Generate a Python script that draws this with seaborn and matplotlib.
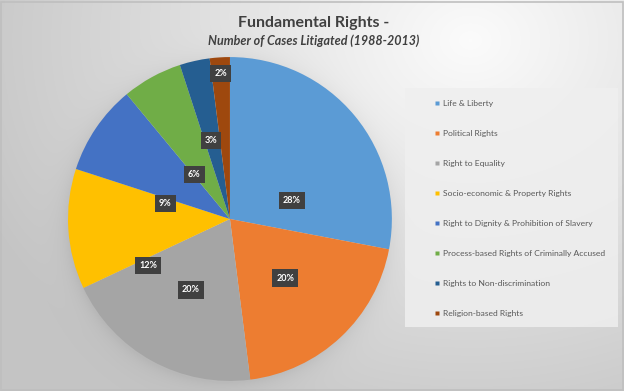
import numpy as np
import matplotlib
matplotlib.use("Agg")
import matplotlib.pyplot as plt
import seaborn as sns
from matplotlib.patches import Rectangle
from matplotlib.lines import Line2D

categories = [
    "Life & Liberty",
    "Political Rights",
    "Right to Equality",
    "Socio-economic & Property Rights",
    "Right to Dignity & Prohibition of Slavery",
    "Process-based Rights of Criminally Accused",
    "Rights to Non-discrimination",
    "Religion-based Rights",
]
shares = [28, 20, 20, 12, 9, 6, 3, 2]
colors = ["#5B9BD5", "#ED7D31", "#A5A5A5", "#FFC000",
          "#4472C4", "#70AD47", "#255E91", "#9E480E"]
# label placement (Excel "best fit" look): radius fraction and angle shift
label_radius = [0.40, 0.5, 0.5, 0.58, 0.41, 0.35, 0.5, 0.9]
label_shift = [-23, 0, 0, 26, 21, 10, 1, 0]

sns.set_theme(style="white")
plt.rcParams["font.family"] = ["Lato", "DejaVu Sans"]
palette = sns.color_palette(colors)

fig = plt.figure(figsize=(6.24, 3.91), dpi=100)

# background gradient
bg = fig.add_axes([0, 0, 1, 1], zorder=-10)
h, w = 391, 624
yy, xx = np.mgrid[0:h, 0:w]
d = np.sqrt(((xx - 470) / 520.0) ** 2 + ((yy - 40) / 420.0) ** 2)
shade = np.clip(0.985 - 0.21 * d, 0.77, 1.0)
# soft shadow around the pie
r = np.sqrt((xx - 228) ** 2 + (yy - 222) ** 2)
shade = shade - 0.06 * np.exp(-np.clip(r - 160, 0, None) / 10.0) * (r > 150)
bg.imshow(np.dstack([shade, shade, shade]), extent=[0, 1, 0, 1], aspect="auto")
bg.add_patch(Rectangle((0.001, 0.002), 0.997, 0.993, fill=False, edgecolor="#BFBFBF", lw=1.2))
bg.set_axis_off()

# legend panel
bg.add_patch(Rectangle((405 / w, 1 - 327 / h), 213 / w, 239 / h,
                       facecolor="#EFEFEF", edgecolor="none", alpha=0.85))

ax = fig.add_axes([0.109, 0.0256, 0.519, 0.8286])
wedges, texts, autotexts = ax.pie(
    shares, colors=palette, startangle=90, counterclock=False,
    radius=1, autopct="%1.0f%%", pctdistance=0.5,
    wedgeprops=dict(edgecolor="none"),
    textprops=dict(color="white", fontsize=6.5, fontweight="bold"),
)
for i, (wd, t) in enumerate(zip(wedges, autotexts)):
    ang = np.deg2rad((wd.theta1 + wd.theta2) / 2 + label_shift[i])
    t.set_position((label_radius[i] * np.cos(ang), label_radius[i] * np.sin(ang)))
    t.set_bbox(dict(boxstyle="square,pad=0.45", facecolor="#404040", edgecolor="none"))
ax.set_xlim(-1, 1)
ax.set_ylim(-1, 1)
ax.set_aspect("equal")
ax.set_axis_off()

handles = [Line2D([0], [0], marker="s", linestyle="none", markersize=3.2,
                  markerfacecolor=c, markeredgecolor="none") for c in palette]
fig.legend(handles, categories, loc="upper left", bbox_to_anchor=(430 / w, 1 - 96 / h),
           frameon=False, fontsize=6.1, labelcolor="#595959", labelspacing=2.71,
           handlelength=0.6, handletextpad=0.4, borderpad=0)

fig.text(0.502, 1 - 23 / h, "Fundamental Rights -", ha="center", va="center",
         fontsize=11.5, color="#404040", fontweight="bold")
fig.text(0.502, 1 - 41 / h, "Number of Cases Litigated (1988-2013)", ha="center",
         va="center", fontsize=9, color="#404040", fontweight="bold", style="italic")

fig.savefig("out.png", dpi=100)
